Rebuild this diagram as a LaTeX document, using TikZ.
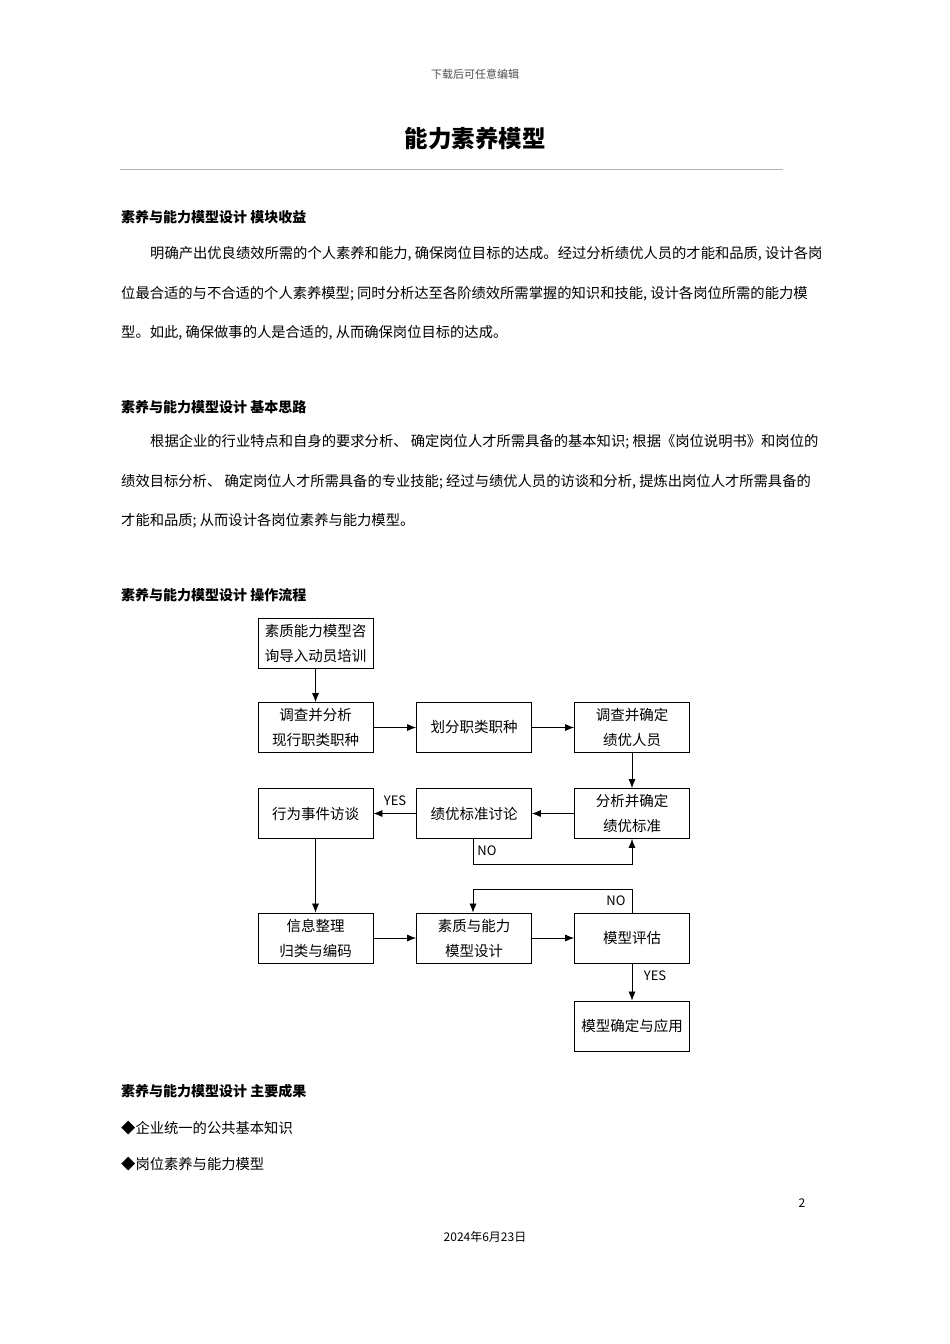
\documentclass[tikz,border=0pt]{standalone}
\usepackage{fontspec}
\setmainfont{Noto Sans CJK SC}
\usetikzlibrary{arrows.meta}
\begin{document}
\begin{tikzpicture}[x=1pt,y=-1pt,
 txt/.style={anchor=west,inner sep=0pt,font=\fontsize{14.3}{16}\selectfont},
 hd/.style={anchor=west,inner sep=0pt,font=\fontsize{14}{16}\selectfont\bfseries},
 box/.style={draw,line width=0.8pt,minimum width=115pt,minimum height=50pt,align=center,font=\fontsize{14.5}{25}\selectfont,inner sep=0pt},
 arr/.style={line width=0.7pt,-{Latex[length=9pt,width=7pt]}},
 lab/.style={font=\fontsize{13}{15}\selectfont\rmfamily,inner sep=1pt}]
\useasboundingbox[fill=white] (0,0) rectangle (950,1344);
\node[font=\fontsize{11}{13}\selectfont,text=black!70] (hdr) at (475,74) {下载后可任意编辑};
\node[font=\fontsize{23.5}{26}\selectfont\bfseries] (title) at (475,139) {能力素养模型};
\draw[black!30,line width=0.6pt] (120,169) -- (783,169);
\node[hd] (h1) at (121,217) {素养与能力模型设计 模块收益};
\node[txt] (p1) at (150,254) {明确产出优良绩效所需的个人素养和能力, 确保岗位目标的达成。经过分析绩优人员的才能和品质, 设计各岗};
\node[txt] (p2) at (121,294) {位最合适的与不合适的个人素养模型; 同时分析达至各阶绩效所需掌握的知识和技能, 设计各岗位所需的能力模};
\node[txt] (p3) at (121,333) {型。如此, 确保做事的人是合适的, 从而确保岗位目标的达成。};
\node[hd] (h2) at (121,407) {素养与能力模型设计 基本思路};
\node[txt] (q1) at (150,442) {根据企业的行业特点和自身的要求分析、 确定岗位人才所需具备的基本知识; 根据《岗位说明书》和岗位的};
\node[txt] (q2) at (121,482) {绩效目标分析、 确定岗位人才所需具备的专业技能; 经过与绩优人员的访谈和分析, 提炼出岗位人才所需具备的};
\node[txt] (q3) at (121,521) {才能和品质; 从而设计各岗位素养与能力模型。};
\node[hd] (h3) at (121,595) {素养与能力模型设计 操作流程};
% flowchart
\node[box] (a) at (315.5,643.5) {素质能力模型咨\\询导入动员培训};
\node[box] (b) at (315.5,727.5) {调查并分析\\现行职类职种};
\node[box] (c) at (474,727.5) {划分职类职种};
\node[box] (d) at (632,727.5) {调查并确定\\绩优人员};
\node[box] (e) at (632,813.5) {分析并确定\\绩优标准};
\node[box] (f) at (474,813.5) {绩优标准讨论};
\node[box] (g) at (315.5,813.5) {行为事件访谈};
\node[box] (h) at (315.5,938) {信息整理\\归类与编码};
\node[box] (i) at (474,938) {素质与能力\\模型设计};
\node[box] (j) at (632,938) {模型评估};
\node[box] (k) at (632,1026) {模型确定与应用};
\draw[arr] (a) -- (b);
\draw[arr] (b) -- (c);
\draw[arr] (c) -- (d);
\draw[arr] (d) -- (e);
\draw[arr] (e) -- (f);
\draw[arr] (f) -- (g);
\draw[arr] (g) -- (h);
\draw[arr] (h) -- (i);
\draw[arr] (i) -- (j);
\draw[arr] (j) -- (k);
\coordinate (n1) at (473,864);
\coordinate (n2) at (632,864);
\draw[arr] (f.south -| n1) -- (n1) -- (n2) -- (e.south);
\coordinate (m1) at (632,889);
\coordinate (m2) at (473,889);
\draw[arr] (j.north) -- (m1) -- (m2) -- (i.north -| m2);
\node[lab] (yes1) at (395,801) {YES};
\node[lab] (no1) at (487,851) {NO};
\node[lab] (no2) at (616,901) {NO};
\node[lab] (yes2) at (655,976) {YES};
\node[hd] (h4) at (121,1091) {素养与能力模型设计 主要成果};
\node[txt] (b1) at (121,1128) {◆企业统一的公共基本知识};
\node[txt] (b2) at (121,1164) {◆岗位素养与能力模型};
\node[font=\fontsize{12}{14}\selectfont] (pg) at (802,1203) {2};
\node[font=\fontsize{12}{14}\selectfont] (dt) at (485,1237) {2024年6月23日};
\end{tikzpicture}
\end{document}
